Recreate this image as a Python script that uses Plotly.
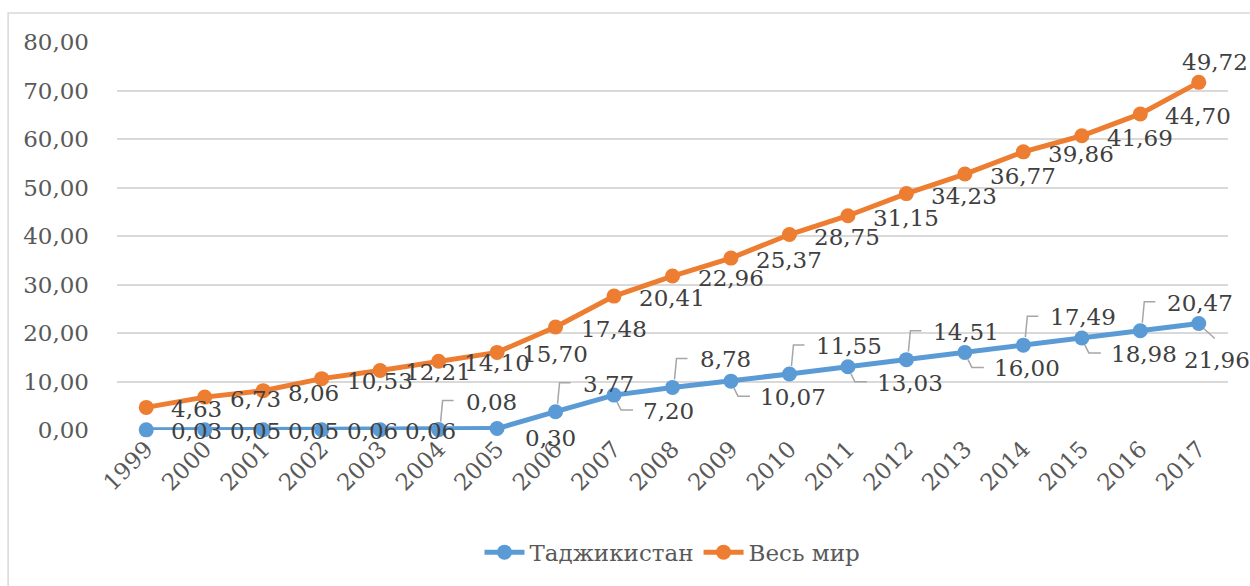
import plotly.graph_objects as go

years = list(range(1999, 2018))
tajikistan = [0.03, 0.05, 0.05, 0.06, 0.06, 0.08, 0.30, 3.77, 7.20, 8.78,
              10.07, 11.55, 13.03, 14.51, 16.00, 17.49, 18.98, 20.47, 21.96]
world = [4.63, 6.73, 8.06, 10.53, 12.21, 14.10, 15.70, 17.48, 20.41, 22.96,
         25.37, 28.75, 31.15, 34.23, 36.77, 39.86, 41.69, 44.70, 49.72]
y_ticks = [0, 10, 20, 30, 40, 50, 60, 70, 80]

BLUE = '#5B9BD5'
ORANGE = '#ED7D31'
LABEL_COLOR = '#404040'
AXIS_COLOR = '#595959'
GRID = '#D9D9D9'
FONT = 'DejaVu Serif'
FS = 23

# stacked line chart: world series sits on top of the Tajikistan series
world_stacked = [a + b for a, b in zip(tajikistan, world)]

# label placement for the Tajikistan labels (r = right, u = up with leader, d = down with leader)
tj_place = ['r', 'r', 'r', 'r', 'r', 'u', 'd0', 'u', 'd', 'u',
            'd', 'u', 'd', 'u', 'd', 'u', 'd', 'u', 'd2']
# kind -> (xshift, yshift, leader path in pixels relative to point, y up)
PLACE = {
    'r': (23, -1, None),
    'u': (25, 28, 'M 2,8 L 4,29 L 15,29'),
    'd': (27, -16, 'M 3,-7 L 7,-15 L 19,-15'),
    'd0': (26, -9, 'M 4,-5 L 7,-8 L 18,-8'),
    'd2': (-17, -37, 'M 5,-5 L 16,-15'),
}


def fmt(v):
    return f'{v:.2f}'.replace('.', ',')


fig = go.Figure()
fig.add_trace(go.Scatter(x=years, y=tajikistan, name='Таджикистан', mode='lines+markers',
                         line=dict(color=BLUE, width=5), marker=dict(size=15, color=BLUE),
                         cliponaxis=False))
fig.add_trace(go.Scatter(x=years, y=world_stacked, name='Весь мир', mode='lines+markers',
                         line=dict(color=ORANGE, width=5), marker=dict(size=15, color=ORANGE),
                         cliponaxis=False))

annotations = []
shapes = []
for yr, v, p in zip(years, tajikistan, tj_place):
    dx, dy, path = PLACE[p]
    annotations.append(dict(x=yr, y=v, text=fmt(v), showarrow=False, xanchor='left',
                            yanchor='middle', xshift=dx, yshift=dy,
                            font=dict(family=FONT, size=FS, color=LABEL_COLOR)))
    if path:
        shapes.append(dict(type='path', xref='x', yref='y', xsizemode='pixel',
                           ysizemode='pixel', xanchor=yr, yanchor=v, path=path,
                           line=dict(color='#A6A6A6', width=1.5)))

for i, (yr, v, lab) in enumerate(zip(years, world_stacked, world)):
    if i == len(years) - 1:
        annotations.append(dict(x=yr, y=v, text=fmt(lab), showarrow=False, xanchor='center',
                                yanchor='middle', xshift=16, yshift=20,
                                font=dict(family=FONT, size=FS, color=LABEL_COLOR)))
    else:
        annotations.append(dict(x=yr, y=v, text=fmt(lab), showarrow=False, xanchor='left',
                                yanchor='middle', xshift=23, yshift=-2,
                                font=dict(family=FONT, size=FS, color=LABEL_COLOR)))

# outer chart border
shapes.append(dict(type='rect', xref='paper', yref='paper', x0=-0.098, x1=1.06,
                   y0=-0.42, y1=1.075, line=dict(color=GRID, width=1.5), layer='below'))

fig.update_layout(
    width=1250, height=586,
    margin=dict(l=117, r=22, t=42, b=152),
    paper_bgcolor='white', plot_bgcolor='white',
    separators=', ',
    font=dict(family=FONT, size=FS, color=AXIS_COLOR),
    annotations=annotations,
    shapes=shapes,
    showlegend=True,
    legend=dict(orientation='h', x=0.5, xanchor='center', y=-0.315, yanchor='middle',
                font=dict(family=FONT, size=FS, color=AXIS_COLOR), itemwidth=40),
    xaxis=dict(range=[1998.5, 2017.5], tickvals=years, ticktext=[str(y) for y in years],
               tickangle=-45, showgrid=False, zeroline=False, showline=False,
               automargin=False,
               tickfont=dict(family=FONT, size=FS, color=AXIS_COLOR)),
    yaxis=dict(range=[0, 80], tickvals=y_ticks, tickformat='.2f', showgrid=True,
               gridcolor=GRID, gridwidth=1.5, zeroline=False, showline=False,
               ticklabelstandoff=27, automargin=False,
               tickfont=dict(family=FONT, size=FS, color=AXIS_COLOR)),
)

fig.write_html('out.html', config={'displayModeBar': False},
               post_script="document.body.style.margin='0';")
